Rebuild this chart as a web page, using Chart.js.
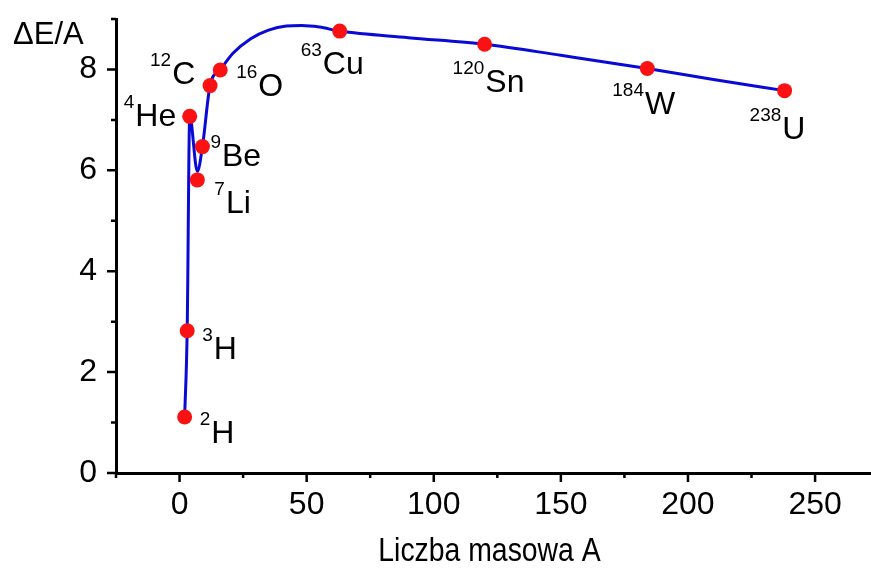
<!DOCTYPE html>
<html>
<head>
<meta charset="utf-8">
<script src="https://cdn.jsdelivr.net/npm/chart.js@4/dist/chart.umd.min.js"></script>
<style>
  html, body { margin: 0; padding: 0; background: #ffffff; }
  #wrap { width: 871px; height: 575px; position: relative; }
</style>
</head>
<body>
<div id="wrap"><canvas id="c"></canvas></div>
<script>
// ---- data ----
const massNumbers   = [2, 3, 4, 7, 9, 12, 16, 63, 120, 184, 238];
const bindingEnergy = [1.11, 2.82, 7.07, 5.81, 6.47, 7.68, 7.99, 8.76, 8.50, 8.02, 7.58];
const massLabels    = ['2', '3', '4', '7', '9', '12', '16', '63', '120', '184', '238'];
const symbols       = ['H', 'H', 'He', 'Li', 'Be', 'C', 'O', 'Cu', 'Sn', 'W', 'U'];

// smooth guide curve drawn through/near the points
const curveA = [2, 3, 4, 7, 9, 12, 16, 21, 28, 35, 42, 48, 55, 63, 90, 120, 150, 184, 210, 238];
const curveE = [1.11, 2.82, 7.07, 5.98, 6.47, 7.68, 7.99, 8.32, 8.61, 8.78, 8.86, 8.87, 8.84, 8.76, 8.63, 8.50, 8.28, 8.02, 7.80, 7.58];

const xTickValues = [0, 50, 100, 150, 200, 250];
const yTickValues = [0, 2, 4, 6, 8];

const xTitle = 'Liczba masowa A';
const yTitle = '\u0394E/A';

// ---- styling / label placement (relative to the point, in px) ----
const labelPlacement = [
  { dx: 15, dy: 26 },   // 2H
  { dx: 15, dy: 28 },   // 3H
  { dx: -66, dy: 10 },  // 4He
  { dx: 17, dy: 33 },   // 7Li
  { dx: 8, dy: 19 },    // 9Be
  { dx: -60, dy: -2 },  // 12C
  { dx: 16, dy: 26 },   // 16O
  { dx: -39, dy: 43 },  // 63Cu
  { dx: -32, dy: 48 },  // 120Sn
  { dx: -35, dy: 46 },  // 184W
  { dx: -35, dy: 48 }   // 238U
];
const FONT = '"Liberation Sans", Arial, sans-serif';
const symFont = '32px ' + FONT;
const supFont = '19px ' + FONT;

const nuclidePoints = massNumbers.map((a, i) => ({ x: a, y: bindingEnergy[i] }));
const curvePoints = curveA.map((a, i) => ({ x: a, y: curveE[i] }));

const axisDecor = {
  id: 'axisDecor',
  afterDraw(chart) {
    const ctx = chart.ctx;
    const xs = chart.scales.x, ys = chart.scales.y;
    const area = chart.chartArea;
    ctx.save();
    ctx.strokeStyle = '#000';
    ctx.lineWidth = 2.5;
    ctx.beginPath();
    for (let v = Math.ceil(xs.min / 25) * 25; v <= xs.max; v += 25) {
      const px = xs.getPixelForValue(v);
      const len = (v % 50 === 0) ? 9 : 5;
      ctx.moveTo(px, area.bottom);
      ctx.lineTo(px, area.bottom + len);
    }
    for (let v = Math.ceil(ys.min); v <= ys.max; v += 1) {
      const py = ys.getPixelForValue(v);
      const len = (v % 2 === 0) ? 9 : 5;
      ctx.moveTo(area.left, py);
      ctx.lineTo(area.left - len, py);
    }
    ctx.stroke();
    ctx.fillStyle = '#000';
    ctx.textBaseline = 'alphabetic';
    // y-axis title at top-left
    ctx.font = '31px ' + FONT;
    ctx.textAlign = 'left';
    ctx.fillText(yTitle, 13, 44);
    // x-axis title, slightly condensed like the original
    ctx.font = '33px ' + FONT;
    ctx.textAlign = 'center';
    ctx.translate((area.left + area.right) / 2 - 4, 561);
    ctx.scale(0.86, 1);
    ctx.fillText(xTitle, 0, 0);
    ctx.restore();
  }
};

const nuclideLabels = {
  id: 'nuclideLabels',
  afterDatasetsDraw(chart) {
    const ctx = chart.ctx;
    const meta = chart.getDatasetMeta(0);
    ctx.save();
    ctx.fillStyle = '#000';
    ctx.textBaseline = 'alphabetic';
    ctx.textAlign = 'left';
    meta.data.forEach((el, i) => {
      const p = labelPlacement[i];
      const x0 = el.x + p.dx;
      const base = el.y + p.dy;
      ctx.font = supFont;
      ctx.fillText(massLabels[i], x0, base - 18);
      const w = ctx.measureText(massLabels[i]).width;
      ctx.font = symFont;
      ctx.fillText(symbols[i], x0 + w + 1, base);
    });
    ctx.restore();
  }
};

new Chart(document.getElementById('c'), {
  type: 'scatter',
  data: {
    datasets: [
      {
        label: 'nuclides',
        data: nuclidePoints,
        backgroundColor: 'rgb(250,18,18)',
        borderColor: 'rgb(250,18,18)',
        pointRadius: 7.5,
        pointHoverRadius: 7.5,
        borderWidth: 0,
        showLine: false,
        clip: false,
        order: 0
      },
      {
        label: 'curve',
        data: curvePoints,
        showLine: true,
        borderColor: 'rgb(10,10,215)',
        borderWidth: 3,
        pointRadius: 0,
        cubicInterpolationMode: 'monotone',
        fill: false,
        clip: false,
        order: 1
      }
    ]
  },
  options: {
    responsive: true,
    maintainAspectRatio: false,
    animation: false,
    events: [],
    layout: { autoPadding: false, padding: { top: 19, right: 0, left: 0, bottom: 0 } },
    plugins: {
      legend: { display: false },
      tooltip: { enabled: false }
    },
    scales: {
      x: {
        type: 'linear',
        min: -25,
        max: 272,
        afterFit(scale) { scale.height = 102; scale.paddingLeft = 0; scale.paddingRight = 0; },
        afterBuildTicks(scale) { scale.ticks = xTickValues.map(v => ({ value: v })); },
        ticks: {
          color: '#000',
          font: { family: FONT, size: 32 },
          padding: 13,
          maxRotation: 0,
          autoSkip: false
        },
        grid: { display: true, drawOnChartArea: false, drawTicks: false },
        border: { display: true, color: '#000', width: 3 },
        title: { display: false, text: xTitle }
      },
      y: {
        type: 'linear',
        min: 0,
        max: 9,
        afterFit(scale) { scale.width = 116; scale.paddingTop = 0; scale.paddingBottom = 0; },
        afterBuildTicks(scale) { scale.ticks = yTickValues.map(v => ({ value: v })); },
        ticks: {
          color: '#000',
          font: { family: FONT, size: 32 },
          padding: 19,
          autoSkip: false
        },
        grid: { display: true, drawOnChartArea: false, drawTicks: false },
        border: { display: true, color: '#000', width: 3 }
      }
    }
  },
  plugins: [axisDecor, nuclideLabels]
});
</script>
</body>
</html>
